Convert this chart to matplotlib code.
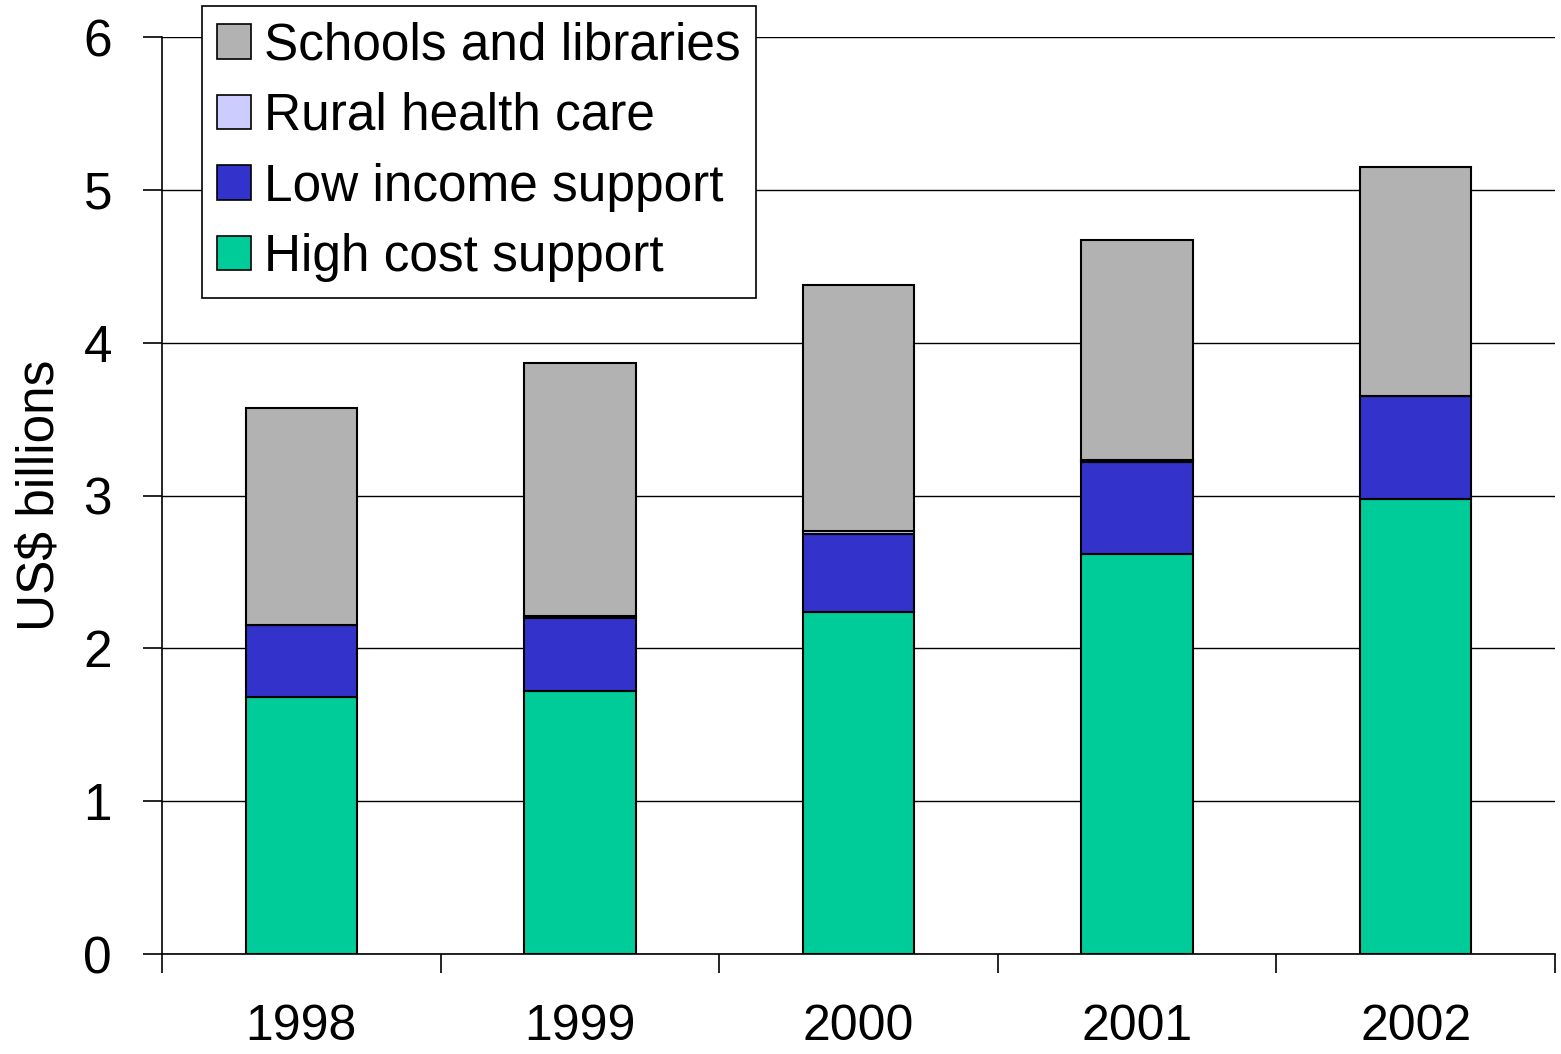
import numpy as np
import matplotlib.pyplot as plt
from matplotlib.patches import Patch

plt.rcParams['font.family'] = ['Liberation Sans', 'DejaVu Sans']

years = ["1998", "1999", "2000", "2001", "2002"]
high_cost = [1.68, 1.72, 2.24, 2.62, 2.98]
low_income = [0.47, 0.48, 0.51, 0.60, 0.67]
rural_health = [0.00, 0.01, 0.02, 0.01, 0.00]
schools = [1.42, 1.66, 1.61, 1.44, 1.50]

colors = {
    "High cost support": "#00CC99",
    "Low income support": "#3333CC",
    "Rural health care": "#CCCCFF",
    "Schools and libraries": "#B2B2B2",
}

fig = plt.figure(figsize=(15.61, 10.54), dpi=100)
ax = fig.add_axes([162 / 1561, 1 - 954 / 1054, (1555 - 162) / 1561, (954 - 37) / 1054])

x = np.arange(len(years)) + 0.5
bottom = np.zeros(len(years))
series = [("High cost support", high_cost), ("Low income support", low_income),
          ("Rural health care", rural_health), ("Schools and libraries", schools)]
for name, vals in series:
    ax.bar(x, vals, width=0.4, bottom=bottom, color=colors[name],
           edgecolor='black', linewidth=1.5, zorder=3)
    bottom += np.array(vals)

ax.set_xlim(0, len(years))
ax.set_ylim(0, 6)
ax.set_yticks(range(0, 7))
ax.yaxis.grid(True, color='black', linewidth=1, zorder=0)
ax.set_axisbelow(True)

# boundary ticks between categories, labels centred under bars
ax.set_xticks(range(0, len(years) + 1))
ax.set_xticklabels([])
ax.set_xticks(x, minor=True)
ax.set_xticklabels(years, minor=True)
ax.tick_params(axis='x', which='major', direction='out', length=14, width=1.2)
ax.tick_params(axis='x', which='minor', length=0, pad=36, labelsize=36)
ax.tick_params(axis='y', direction='out', length=14, width=1.2, labelsize=37, pad=22)

for s in ['top', 'right']:
    ax.spines[s].set_visible(False)
for s in ['left', 'bottom']:
    ax.spines[s].set_linewidth(1.2)

ax.set_ylabel("US$ billions", fontsize=37)
ax.yaxis.set_label_coords(-0.07, 0.5)

labels = ["Schools and libraries", "Rural health care",
          "Low income support", "High cost support"]
handles = [Patch(facecolor=colors[n], edgecolor='black', linewidth=1.2) for n in labels]
leg = fig.legend(handles, labels, loc='upper left',
                 bbox_to_anchor=(202 / 1561, 1 - 6 / 1054),
                 fontsize=37, frameon=True, fancybox=False, framealpha=1,
                 edgecolor='black', handlelength=0.65, handleheight=0.65,
                 handletextpad=0.25, borderpad=0.3, labelspacing=0.42,
                 borderaxespad=0)
leg.get_frame().set_linewidth(1.2)

fig.savefig("out.png", dpi=100)
